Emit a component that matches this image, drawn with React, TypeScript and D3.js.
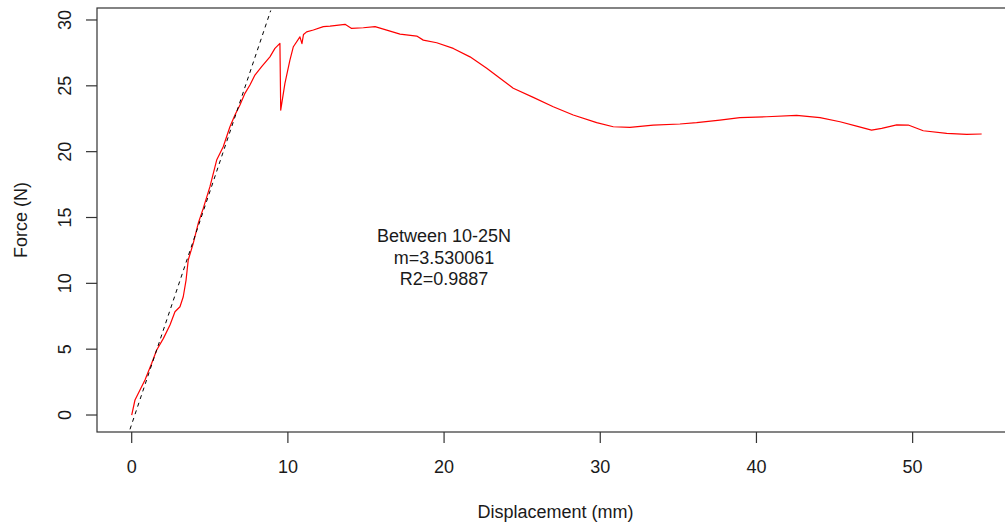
import React from "react";
import * as d3 from "d3";

const dispX = [0, 0.21, 0.85, 1.28, 1.6, 2.03, 2.45, 2.77, 3.09, 3.3, 3.48, 3.62, 3.94, 4.26, 4.58, 5.01, 5.44, 5.86, 6.29, 6.61, 6.93, 7.25, 7.57, 7.89, 8.32, 8.85, 9.17, 9.49, 9.54, 9.81, 10.13, 10.35, 10.77, 10.9, 11.0, 11.2, 11.63, 12.27, 12.7, 13.66, 14.08, 14.83, 15.58, 16.33, 17.18, 18.25, 18.67, 19.53, 20.59, 21.66, 22.73, 23.58, 24.43, 25.71, 26.99, 28.27, 29.77, 30.83, 31.9, 33.39, 35.1, 36.17, 37.66, 38.94, 40.65, 42.57, 44.07, 45.35, 46.41, 47.37, 48.02, 48.98, 49.72, 50.68, 52.18, 53.46, 54.42];
const forceN = [0, 1.14, 2.66, 3.93, 4.94, 5.82, 6.83, 7.84, 8.22, 8.98, 10.25, 11.77, 13.04, 14.56, 15.69, 17.34, 19.36, 20.37, 21.89, 22.78, 23.54, 24.43, 25.06, 25.82, 26.45, 27.2, 27.84, 28.22, 23.16, 25.19, 26.95, 27.97, 28.72, 28.2, 28.9, 29.1, 29.24, 29.5, 29.54, 29.67, 29.36, 29.41, 29.49, 29.23, 28.93, 28.78, 28.47, 28.27, 27.84, 27.2, 26.33, 25.57, 24.81, 24.12, 23.41, 22.78, 22.2, 21.89, 21.85, 22.02, 22.1, 22.2, 22.4, 22.58, 22.65, 22.76, 22.58, 22.27, 21.94, 21.64, 21.77, 22.04, 22.02, 21.59, 21.39, 21.31, 21.34];

const xTicks = [0, 10, 20, 30, 40, 50];
const yTicks = [0, 5, 10, 15, 20, 25, 30];

const fitSlope = 3.530061;
const fitIntercept = -0.7;
const fitRangeX = [-0.11, 8.9];

const annotation = ["Between 10-25N", "m=3.530061", "R2=0.9887"];
const annotationAt = { x: 20, y: 12 };

const W = 1005;
const H = 529;
const L = 97, R = 1014, T = 8, B = 432;
const FONT = "'Liberation Sans', Arial, Helvetica, sans-serif";

export default function App() {
  const x = d3.scaleLinear().domain([-2.222, 56.49]).range([L, R]);
  const y = d3.scaleLinear().domain([-1.29, 30.91]).range([B, T]);

  const pts: [number, number][] = dispX.map((d, i) => [d, forceN[i]]);
  const line = d3.line<[number, number]>().x((d) => x(d[0])).y((d) => y(d[1]));
  const fitPts: [number, number][] = fitRangeX.map((v) => [v, fitSlope * v + fitIntercept]);

  const axisColor = "#333";
  const textColor = "#1a1a1a";

  return (
    <svg width={W} height={H} style={{ position: "absolute", left: 0, top: 0, background: "#fff" }} fontFamily={FONT}>
      <rect x={0} y={0} width={W} height={H} fill="#fff" />
      <defs>
        <clipPath id="plotclip">
          <rect x={L} y={T} width={R - L} height={B - T} />
        </clipPath>
      </defs>
      <g clipPath="url(#plotclip)">
        <path d={line(pts) || ""} fill="none" stroke="#ff0000" strokeWidth={1.2} strokeLinejoin="round" />
        <path d={line(fitPts) || ""} fill="none" stroke="#000" strokeWidth={1} strokeDasharray="4,4" />
      </g>
      <rect x={L} y={T} width={R - L} height={B - T} fill="none" stroke={axisColor} strokeWidth={1.2} />
      {xTicks.map((t) => (
        <g key={"x" + t}>
          <line x1={x(t)} x2={x(t)} y1={B} y2={B + 11} stroke={axisColor} strokeWidth={1.2} />
          <text x={x(t)} y={473} textAnchor="middle" fontSize={18} fill={textColor}>{t}</text>
        </g>
      ))}
      {yTicks.map((t) => (
        <g key={"y" + t}>
          <line x1={L - 11} x2={L} y1={y(t)} y2={y(t)} stroke={axisColor} strokeWidth={1.2} />
          <text transform={`translate(71,${y(t)}) rotate(-90)`} textAnchor="middle" fontSize={18} fill={textColor}>{t}</text>
        </g>
      ))}
      <text x={(L + R) / 2} y={518} textAnchor="middle" fontSize={18} fill={textColor}>Displacement (mm)</text>
      <text transform={`translate(27,${(T + B) / 2}) rotate(-90)`} textAnchor="middle" fontSize={18} fill={textColor}>Force (N)</text>
      {annotation.map((s, i) => (
        <text key={s} x={x(annotationAt.x)} y={y(annotationAt.y) + (i - 1) * 21.6 + 6.5} textAnchor="middle" fontSize={18} fill={textColor}>{s}</text>
      ))}
    </svg>
  );
}
